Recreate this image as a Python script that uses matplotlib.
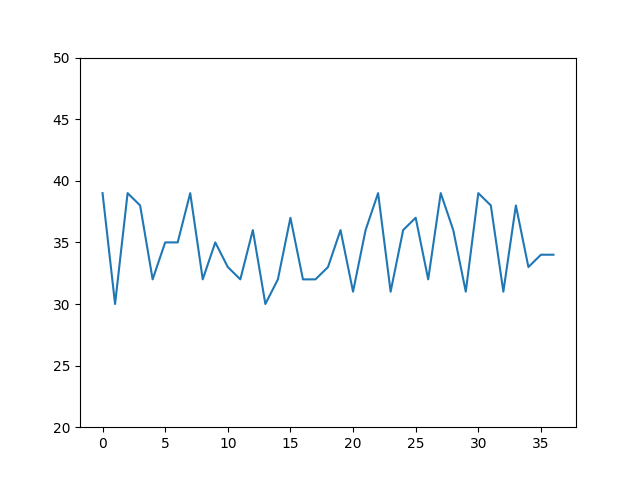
import matplotlib
matplotlib.use("Agg")
import matplotlib.pyplot as plt

# values, one per integer step
x_vals = list(range(37))
y_vals = [39, 30, 39, 38, 32, 35, 35, 39, 32, 35, 33, 32, 36, 30, 32, 37,
          32, 32, 33, 36, 31, 36, 39, 31, 36, 37, 32, 39, 36, 31, 39, 38,
          31, 38, 33, 34, 34]

fig, ax = plt.subplots(figsize=(6.4, 4.8), dpi=100)
ax.plot(x_vals, y_vals)
ax.set_ylim(20, 50)

fig.savefig("out.png")
